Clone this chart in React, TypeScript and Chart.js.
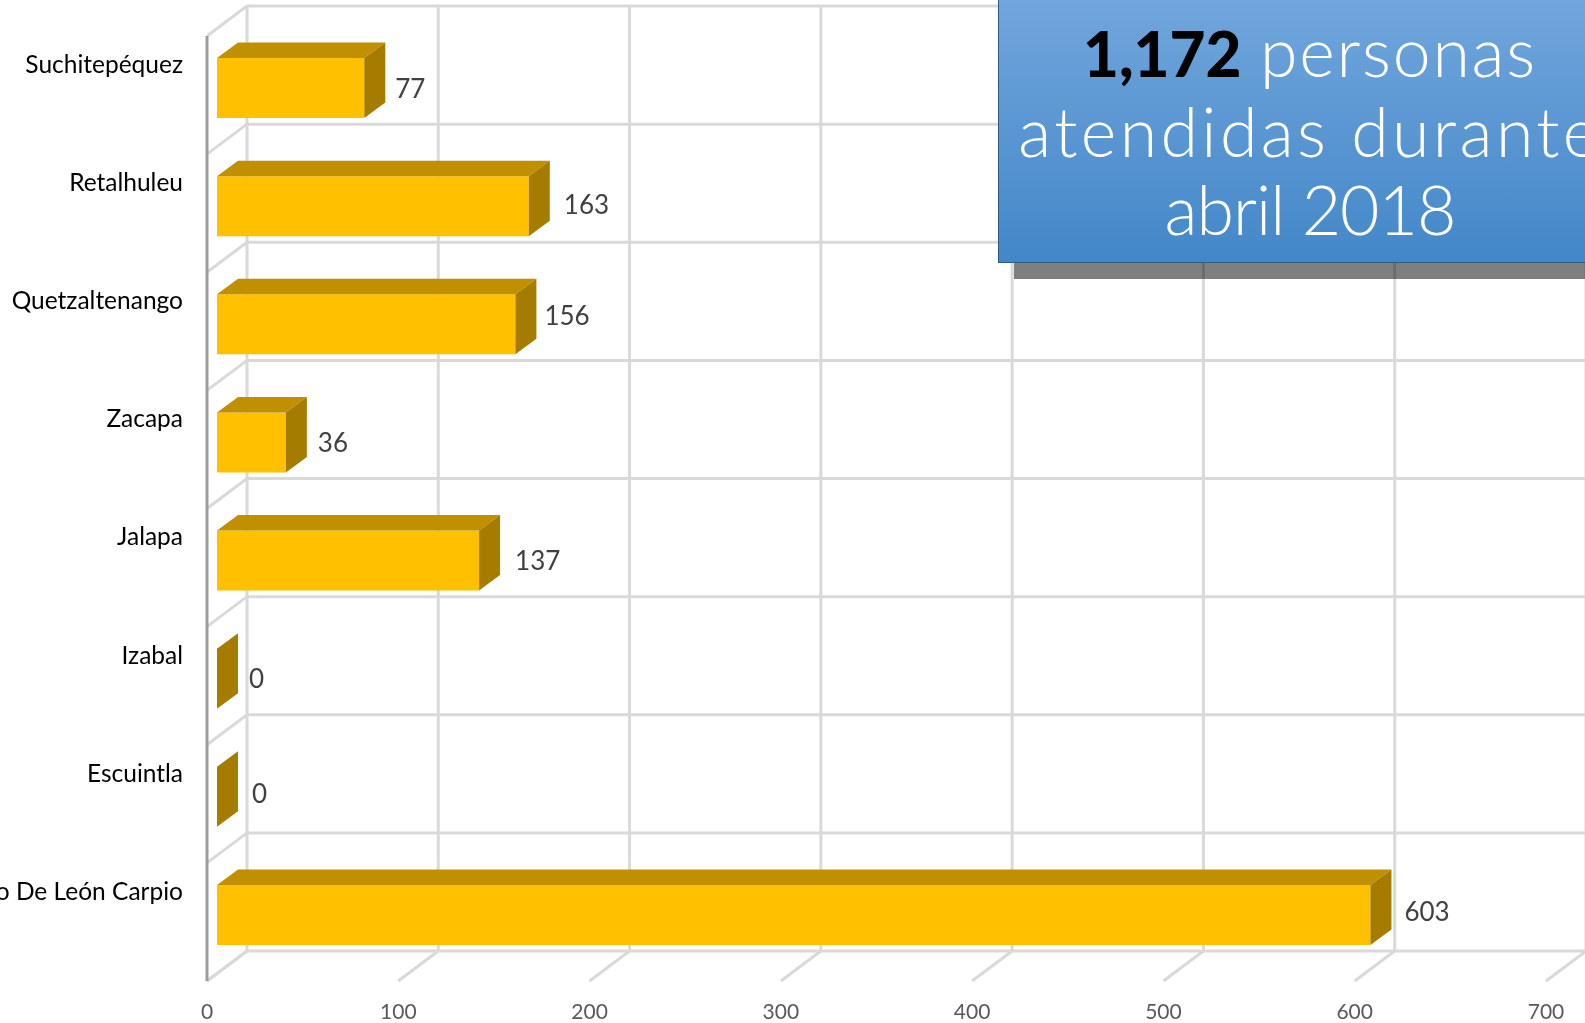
import React, { useEffect, useRef } from "react";
import { Chart, registerables } from "chart.js";

Chart.register(...registerables);

const categories = [
  "Suchitepéquez",
  "Retalhuleu",
  "Quetzaltenango",
  "Zacapa",
  "Jalapa",
  "Izabal",
  "Escuintla",
  "Ramiro De León Carpio",
];
const personas = [77, 163, 156, 36, 137, 0, 0, 603];
const xTicks = [0, 100, 200, 300, 400, 500, 600, 700];

// Small per-label hand adjustments seen in the reference (style, not data)
const labelNudgeX = [10, 14, 8, 11, 15, 11, 14, 13];
const labelNudgeY = [2, -1, -8, 1, 1, 1, -2, -2];

const WIDTH = 1585;
const HEIGHT = 1023;
const WALL = { dx: 40, dy: 30 };
const BAR_SHIFT = { dx: 10, dy: 23 };
const BAR_DEPTH = { dx: 21, dy: 15.5 };
const GRID = "#d9d9d9";

const threeD = {
  id: "threeD",
  beforeDatasetsDraw(chart: any) {
    const { ctx, scales } = chart;
    const x = scales.x;
    const y = scales.y;
    const top = y.top;
    const bottom = y.bottom;
    ctx.save();
    ctx.strokeStyle = GRID;
    ctx.lineWidth = 3;
    const step = (y.bottom - y.top) / categories.length;
    for (let i = 0; i <= categories.length; i++) {
      const py = y.getPixelForValue(0) - step / 2 + i * step;
      ctx.beginPath();
      ctx.moveTo(x.left, py + WALL.dy);
      ctx.lineTo(x.left + WALL.dx, py);
      ctx.lineTo(WIDTH, py);
      ctx.stroke();
    }
    xTicks.forEach((t) => {
      const px = x.getPixelForValue(t);
      ctx.beginPath();
      ctx.moveTo(px + WALL.dx, top);
      ctx.lineTo(px + WALL.dx, bottom);
      ctx.lineTo(px, bottom + WALL.dy);
      ctx.stroke();
    });
    ctx.strokeStyle = "#9c9c9c";
    ctx.beginPath();
    ctx.moveTo(x.left, top + WALL.dy);
    ctx.lineTo(x.left, bottom + WALL.dy);
    ctx.stroke();
    ctx.restore();
    ctx.save();
    ctx.translate(BAR_SHIFT.dx, BAR_SHIFT.dy);
  },
  afterDatasetsDraw(chart: any) {
    const { ctx } = chart;
    const bars = chart.getDatasetMeta(0).data;
    bars.forEach((b: any) => {
      const t = b.y - b.height / 2;
      const u = b.y + b.height / 2;
      const l = b.base;
      const r = b.x;
      if (r > l) {
        ctx.fillStyle = "#c09000";
        ctx.beginPath();
        ctx.moveTo(l, t);
        ctx.lineTo(l + BAR_DEPTH.dx, t - BAR_DEPTH.dy);
        ctx.lineTo(r + BAR_DEPTH.dx, t - BAR_DEPTH.dy);
        ctx.lineTo(r, t);
        ctx.closePath();
        ctx.fill();
      }
      ctx.fillStyle = "#a67c00";
      ctx.beginPath();
      ctx.moveTo(r, t);
      ctx.lineTo(r + BAR_DEPTH.dx, t - BAR_DEPTH.dy);
      ctx.lineTo(r + BAR_DEPTH.dx, u - BAR_DEPTH.dy);
      ctx.lineTo(r, u);
      ctx.closePath();
      ctx.fill();
    });
    ctx.fillStyle = "#404040";
    ctx.font = "26px Lato";
    ctx.textAlign = "left";
    ctx.textBaseline = "middle";
    bars.forEach((b: any, i: number) => {
      ctx.fillText(
        String(personas[i]),
        b.x + BAR_DEPTH.dx + labelNudgeX[i],
        b.y + labelNudgeY[i]
      );
    });
    ctx.restore();
  },
};

const noPadding = (s: any) => {
  s.paddingTop = 0;
  s.paddingBottom = 0;
  s.paddingLeft = 0;
  s.paddingRight = 0;
};

export default function App() {
  const ref = useRef<HTMLCanvasElement>(null);
  useEffect(() => {
    const chart = new Chart(ref.current as HTMLCanvasElement, {
      type: "bar",
      data: {
        labels: categories,
        datasets: [
          {
            data: personas,
            backgroundColor: "#ffc000",
            barPercentage: 0.508,
            categoryPercentage: 1,
            clip: false as any,
          },
        ],
      },
      options: {
        indexAxis: "y",
        responsive: false,
        animation: false,
        layout: { padding: { top: 6, right: 39, left: 0, bottom: 0 } },
        plugins: { legend: { display: false }, tooltip: { enabled: false } },
        scales: {
          x: {
            min: 0,
            max: 700,
            afterFit: (s: any) => {
              s.height = 72;
              noPadding(s);
            },
            ticks: {
              stepSize: 100,
              padding: 41,
              color: "#595959",
              font: { family: "Lato", size: 21 },
              maxRotation: 0,
            },
            grid: { display: false },
            border: { display: false },
          },
          y: {
            afterFit: (s: any) => {
              s.width = 207;
              noPadding(s);
            },
            ticks: {
              autoSkip: false,
              padding: 24,
              color: "#000000",
              font: { family: "Lato", size: 24.5 },
            },
            grid: { display: false, drawTicks: false },
            border: { display: false },
          },
        },
      },
      plugins: [threeD],
    } as any);
    return () => chart.destroy();
  }, []);

  return (
    <div
      style={{
        position: "absolute",
        left: 0,
        top: 0,
        width: WIDTH,
        height: HEIGHT,
        overflow: "hidden",
        background: "#fff",
      }}
    >
      <canvas
        ref={ref}
        width={WIDTH}
        height={HEIGHT}
        style={{ position: "absolute", left: 0, top: 0 }}
      />
      <div
        style={{
          position: "absolute",
          left: 998,
          top: -20,
          width: 640,
          height: 283,
          boxSizing: "border-box",
          border: "1px solid #2f5a85",
          background: "linear-gradient(180deg, #74a8de 0%, #4387c8 100%)",
          boxShadow: "16px 16px 0 rgba(0,0,0,0.5)",
        }}
      >
        <div
          style={{
            position: "absolute",
            left: 0,
            top: 31,
            width: 622,
            textAlign: "center",
            fontFamily: "Lato",
            fontWeight: 300,
            fontSize: 68,
            lineHeight: "78px",
            color: "#fff",
            whiteSpace: "nowrap",
          }}
        >
          <div>
            <span style={{ fontWeight: 900, color: "#000", fontSize: 62 }}>1,172</span>{" "}
            <span style={{ letterSpacing: 1.8 }}>personas</span>
          </div>
          <div style={{ letterSpacing: 3.4 }}>atendidas durante</div>
          <div style={{ letterSpacing: -1 }}>abril 2018</div>
        </div>
      </div>
    </div>
  );
}
